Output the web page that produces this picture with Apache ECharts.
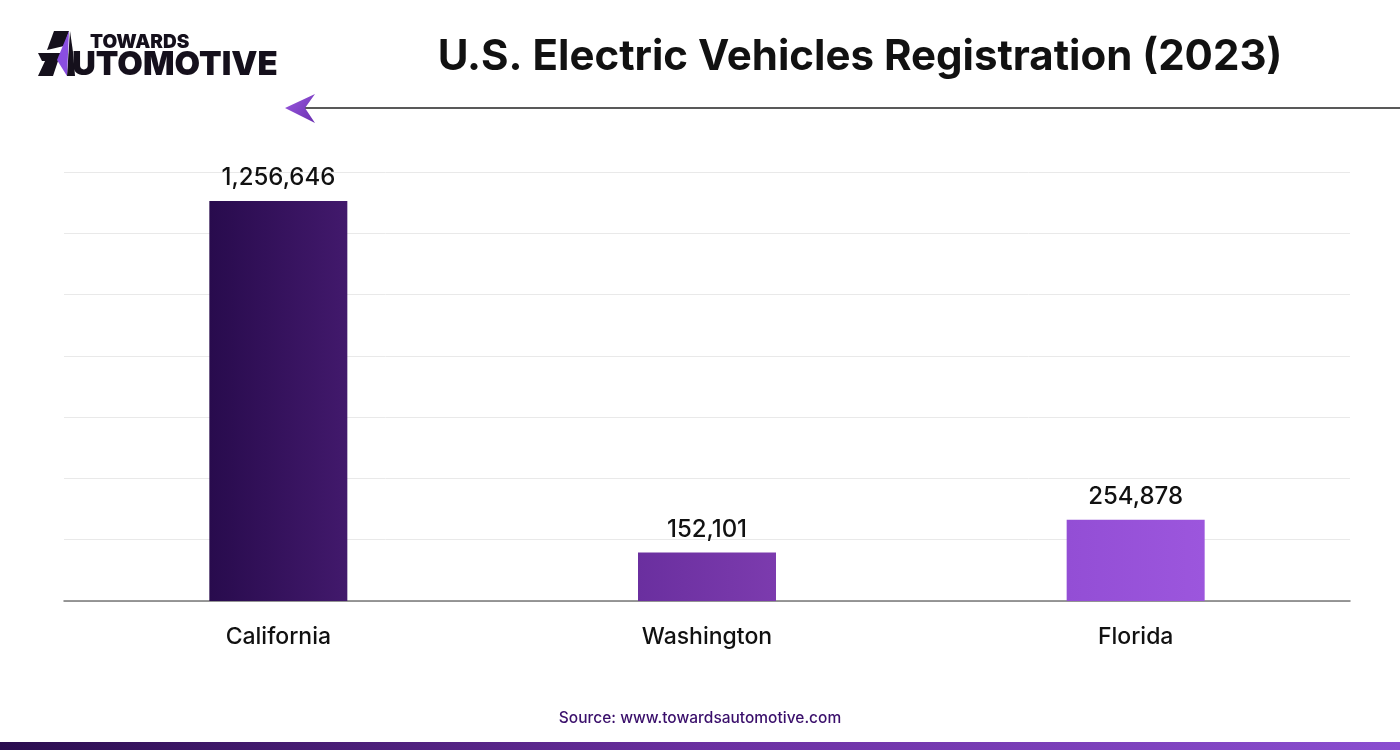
<!DOCTYPE html>
<html>
<head>
<meta charset="utf-8">
<script src="https://cdn.jsdelivr.net/npm/echarts@6/dist/echarts.min.js"></script>
<style>
html,body{margin:0;padding:0;background:#fff;}
#chart{width:1400px;height:750px;}
</style>
</head>
<body>
<div id="chart"></div>
<script>
const categories = ['California', 'Washington', 'Florida'];
const registrations = [1256646, 152101, 254878];
const titleText = 'U.S. Electric Vehicles Registration (2023)';
const sourceText = 'Source: www.towardsautomotive.com';

const barColors = [
  ['#280b4d', '#42196c'],
  ['#6a2f9f', '#7c3bae'],
  ['#934ed5', '#9c56dd']
];

const chart = echarts.init(document.getElementById('chart'));
const option = {
  backgroundColor: '#ffffff',
  animation: false,
  grid: { left: 64, right: 50, top: 172, bottom: 149 },
  xAxis: {
    type: 'category',
    data: categories,
    axisTick: { show: false },
    axisLine: { lineStyle: { color: '#777777', width: 1.5 } },
    axisLabel: { color: '#111111', fontSize: 23, fontWeight: 500, fontFamily: 'Inter', margin: 25 }
  },
  yAxis: {
    type: 'value',
    min: 0,
    max: 1347500,
    interval: 192500,
    axisLabel: { show: false },
    axisLine: { show: false },
    axisTick: { show: false },
    splitLine: { lineStyle: { color: '#e9e9e9', width: 1 } }
  },
  series: [{
    type: 'bar',
    barWidth: 138,
    data: registrations.map((v, i) => ({
      value: v,
      itemStyle: {
        color: new echarts.graphic.LinearGradient(0, 0, 1, 0, [
          { offset: 0, color: barColors[i][0] },
          { offset: 1, color: barColors[i][1] }
        ])
      }
    })),
    label: {
      show: true,
      position: 'top',
      distance: 11,
      color: '#111111',
      fontSize: 24,
      fontWeight: 500,
      fontFamily: 'Inter',
      formatter: p => p.value.toLocaleString('en-US')
    }
  }],
  graphic: [
    {
      type: 'text', x: 860, y: 57, z: 10,
      style: { text: titleText, fill: '#111111', font: 'bold 42px Inter', textAlign: 'center', textVerticalAlign: 'middle' }
    },
    // arrow line
    { type: 'line', shape: { x1: 300, y1: 108, x2: 1400, y2: 108 }, style: { stroke: '#222222', lineWidth: 1.5 } },
    { type: 'polygon', shape: { points: [[285, 108], [315, 94], [305, 108], [315, 123]] },
      style: { fill: new echarts.graphic.LinearGradient(0, 0, 1, 1, [{ offset: 0, color: '#9b5ae0' }, { offset: 1, color: '#6a2fb0' }]) } },
    // logo icon
    { type: 'polygon', shape: { points: [[54, 31], [69, 31], [64, 46], [47, 50]] }, style: { fill: '#15101c' } },
    { type: 'polygon', shape: { points: [[38, 53], [63, 53], [61, 61], [42, 61]] }, style: { fill: '#15101c' } },
    { type: 'polygon', shape: { points: [[45, 61], [58, 61], [53, 76], [38, 76]] }, style: { fill: '#15101c' } },
    { type: 'polygon', shape: { points: [[70, 31], [73, 52], [75, 76], [67, 76]] }, style: { fill: '#15101c' } },
    { type: 'polygon', shape: { points: [[69, 31], [67, 76], [57, 60]] }, style: { fill: '#8a4ee0' } },
    { type: 'text', left: 90, top: 33, style: { text: 'TOWARDS', fill: '#15101c', font: '900 19px Inter' } },
    { type: 'text', left: 72, top: 49, style: { text: 'UTOMOTIVE', fill: '#15101c', font: '900 33px Inter' } },
    // source
    { type: 'text', x: 700, y: 718, style: { text: sourceText, fill: '#3a0f6b', font: '500 15.5px Inter', textAlign: 'center', textVerticalAlign: 'middle' } },
    // bottom band
    { type: 'rect', shape: { x: 0, y: 742, width: 1400, height: 8 },
      style: { fill: new echarts.graphic.LinearGradient(0, 0, 1, 0, [{ offset: 0, color: '#2a0d4f' }, { offset: 0.5, color: '#6a2fa0' }, { offset: 1, color: '#8a4ed0' }]) } }
  ]
};
chart.setOption(option);
</script>
</body>
</html>
